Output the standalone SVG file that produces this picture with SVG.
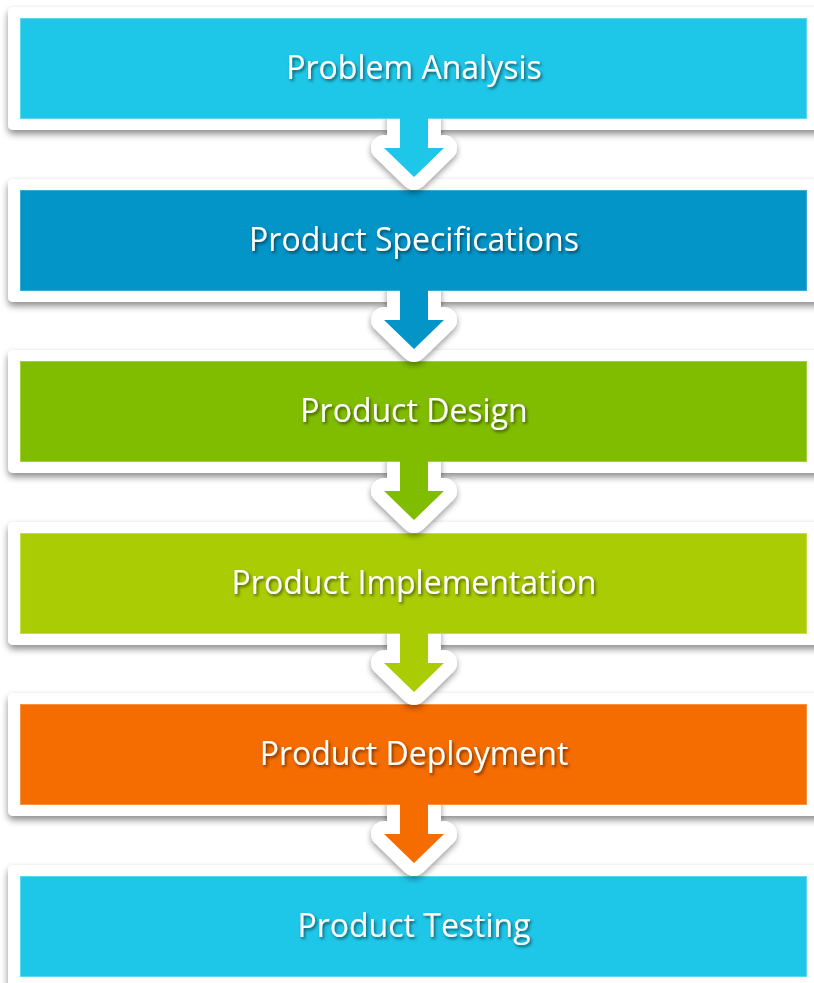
<svg xmlns="http://www.w3.org/2000/svg" width="814" height="983" viewBox="0 0 814 983">
<defs>
<style>
.frame{fill:#ffffff;filter:url(#sh)}
.lbl{font-family:"Open Sans","Noto Sans","Liberation Sans",sans-serif;font-size:32px;fill:#ffffff;text-anchor:middle;filter:url(#tsh)}
.out{fill:none;stroke:#ffffff;stroke-width:26;stroke-linejoin:round}
.c1{fill:#1EC6E8;stroke:#5ad8f0}
.c2{fill:#0394C8;stroke:#3aaad6}
.c3{fill:#80BC00;stroke:#a0d040}
.c4{fill:#AACC04;stroke:#c4dd44}
.c5{fill:#F56C00;stroke:#f89440}
.box{stroke-width:1}
.af1{fill:#1EC6E8}.af2{fill:#0394C8}.af3{fill:#80BC00}.af4{fill:#AACC04}.af5{fill:#F56C00}
</style>
<filter id="sh" x="-5%" y="-20%" width="110%" height="150%">
<feDropShadow dx="0" dy="4" stdDeviation="3.5" flood-color="#000" flood-opacity="0.45"/>
</filter>
<filter id="ash" x="-30%" y="-30%" width="160%" height="160%">
<feDropShadow dx="0" dy="3" stdDeviation="3" flood-color="#000" flood-opacity="0.4"/>
</filter>
<filter id="tsh" x="-10%" y="-30%" width="120%" height="160%">
<feDropShadow dx="1.5" dy="2" stdDeviation="1.5" flood-color="#000" flood-opacity="0.55"/>
</filter>
<clipPath id="cl1"><rect x="300" y="119" width="230" height="120"/></clipPath>
<clipPath id="cl2"><rect x="300" y="291" width="230" height="120"/></clipPath>
<clipPath id="cl3"><rect x="300" y="462" width="230" height="120"/></clipPath>
<clipPath id="cl4"><rect x="300" y="634" width="230" height="120"/></clipPath>
<clipPath id="cl5"><rect x="300" y="805" width="230" height="120"/></clipPath>
</defs>
<rect width="814" height="983" fill="#ffffff"/>

<g id="frames">
<rect class="frame" x="8" y="7" width="820" height="123" rx="5"/>
<rect class="frame" x="8" y="179" width="820" height="123" rx="5"/>
<rect class="frame" x="8" y="350" width="820" height="123" rx="5"/>
<rect class="frame" x="8" y="522" width="820" height="123" rx="5"/>
<rect class="frame" x="8" y="693" width="820" height="123" rx="5"/>
<rect class="frame" x="8" y="865" width="820" height="123" rx="5"/>
</g>

<g id="node1"><rect class="box c1" x="20.5" y="18.5" width="786" height="100"/><text class="lbl" x="414" y="79">Problem Analysis</text></g>
<g id="node2"><rect class="box c2" x="20.5" y="190.5" width="786" height="100"/><text class="lbl" x="414" y="251">Product Specifications</text></g>
<g id="node3"><rect class="box c3" x="20.5" y="361.5" width="786" height="100"/><text class="lbl" x="414" y="422">Product Design</text></g>
<g id="node4"><rect class="box c4" x="20.5" y="533.5" width="786" height="100"/><text class="lbl" x="414" y="594">Product Implementation</text></g>
<g id="node5"><rect class="box c5" x="20.5" y="704.5" width="786" height="100"/><text class="lbl" x="414" y="765">Product Deployment</text></g>
<g id="node6"><rect class="box c1" x="20.5" y="876.5" width="786" height="100"/><text class="lbl" x="414" y="937">Product Testing</text></g>

<g id="connectors">
<g clip-path="url(#cl1)"><path class="out" filter="url(#ash)" d="M400 108 V148 H384 L414 177 L444 148 H428 V108 Z"/></g>
<path class="af1" d="M400 118 V148 H384 L414 177 L444 148 H428 V118 Z"/>
<g clip-path="url(#cl2)"><path class="out" filter="url(#ash)" d="M400 280 V320 H384 L414 349 L444 320 H428 V280 Z"/></g>
<path class="af2" d="M400 290 V320 H384 L414 349 L444 320 H428 V290 Z"/>
<g clip-path="url(#cl3)"><path class="out" filter="url(#ash)" d="M400 451 V491 H384 L414 520 L444 491 H428 V451 Z"/></g>
<path class="af3" d="M400 461 V491 H384 L414 520 L444 491 H428 V461 Z"/>
<g clip-path="url(#cl4)"><path class="out" filter="url(#ash)" d="M400 623 V663 H384 L414 692 L444 663 H428 V623 Z"/></g>
<path class="af4" d="M400 633 V663 H384 L414 692 L444 663 H428 V633 Z"/>
<g clip-path="url(#cl5)"><path class="out" filter="url(#ash)" d="M400 794 V834 H384 L414 863 L444 834 H428 V794 Z"/></g>
<path class="af5" d="M400 804 V834 H384 L414 863 L444 834 H428 V804 Z"/>
</g>
</svg>
